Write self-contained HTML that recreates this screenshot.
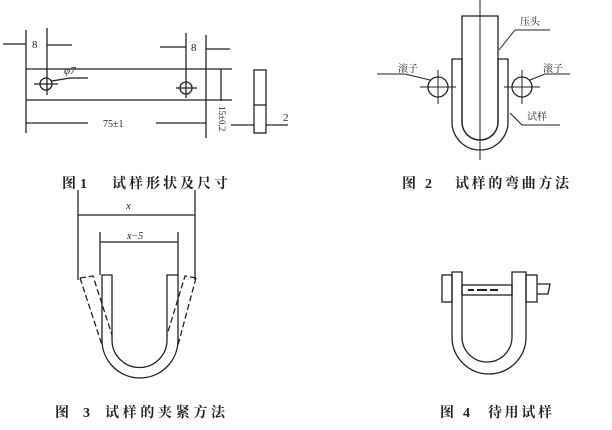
<!DOCTYPE html>
<html><head><meta charset="utf-8"><style>
html,body{margin:0;padding:0;background:#fff;}
svg{display:block;}
text{font-family:"Liberation Serif","Noto Serif CJK SC",serif;fill:#222;}
.c{font-family:"Liberation Serif","Noto Serif CJK SC",serif;font-size:14px;font-weight:bold;}
</style></head><body>
<svg width="612" height="430" viewBox="0 0 612 430" xmlns="http://www.w3.org/2000/svg">
<g stroke="#222" stroke-width="1.3" fill="none">
<!-- Fig 1 -->
<line x1="26" y1="30" x2="26" y2="133"/>
<line x1="47" y1="28" x2="47" y2="95"/>
<line x1="3" y1="44" x2="26" y2="44"/>
<line x1="47" y1="45" x2="72" y2="45"/>
<line x1="26" y1="69" x2="232" y2="69"/>
<line x1="26" y1="100" x2="232" y2="100"/>
<line x1="206" y1="35" x2="206" y2="138"/>
<line x1="186" y1="33" x2="186" y2="98"/>
<line x1="160" y1="47" x2="186" y2="47"/>
<line x1="206" y1="49" x2="230" y2="49"/>
<circle cx="46" cy="84" r="6"/>
<line x1="34" y1="84" x2="58" y2="84"/>
<circle cx="186" cy="88" r="6"/>
<line x1="176" y1="88" x2="197" y2="88"/>
<line x1="52" y1="81" x2="70" y2="78"/><line x1="70" y1="78" x2="88" y2="78"/>
<line x1="221" y1="69" x2="221" y2="101"/>
<line x1="26" y1="123" x2="88" y2="123"/>
<line x1="156" y1="123" x2="206" y2="123"/>
<rect x="254" y="70" width="12" height="63"/>
<line x1="254" y1="105" x2="266" y2="105"/>
<line x1="231" y1="125" x2="254" y2="125"/>
<line x1="266" y1="125" x2="288" y2="125"/>
<!-- Fig 2 -->
<line x1="480" y1="0" x2="480" y2="160" stroke-width="1"/>
<path d="M462 16 H498 V122 A18 18 0 0 1 462 122 Z"/>
<path d="M452 59 H462 V122 A18 18 0 0 0 498 122 V59 H508 V122 A28 28 0 0 1 452 122 Z"/>
<circle cx="438" cy="87" r="10"/>
<circle cx="522" cy="87" r="10"/>
<line x1="420" y1="87" x2="456" y2="87" stroke-width="1"/>
<line x1="438" y1="70" x2="438" y2="104" stroke-width="1"/>
<line x1="504" y1="87" x2="540" y2="87" stroke-width="1"/>
<line x1="522" y1="70" x2="522" y2="104" stroke-width="1"/>
<path d="M499 50 L515 30 H550" stroke-width="1"/>
<path d="M377 74 H405 L430 80" stroke-width="1"/>
<path d="M530 80 L545 74 H570" stroke-width="1"/>
<path d="M510 113 L522 125 H560" stroke-width="1"/>
<!-- Fig 3 -->
<line x1="78" y1="190" x2="78" y2="280"/>
<line x1="195" y1="190" x2="195" y2="280"/>
<line x1="78" y1="215" x2="195" y2="215"/>
<line x1="100" y1="232" x2="100" y2="275"/>
<line x1="178" y1="232" x2="178" y2="275"/>
<line x1="100" y1="242" x2="178" y2="242"/>
<path d="M102 275 H112 V340 A27.5 27.5 0 0 0 167 340 V275 H178 V340 A38 38 0 0 1 102 340 Z"/>
<g stroke-dasharray="6 3">
<path d="M80 278 L93 276 L112 335"/><path d="M80 278 L102 345"/>
<path d="M196 278 L185 276 L167 335"/><path d="M196 278 L178 345"/>
</g>
<!-- Fig 4 -->
<path d="M452 272 H462 V337 A25 25 0 0 0 512 337 V272 H526 V337 A37 37 0 0 1 452 337 Z"/>
<rect x="442" y="275" width="10" height="27"/>
<rect x="526" y="275" width="11" height="27"/>
<rect x="462" y="285" width="50" height="10"/>
<path d="M468 290 h6 m3 0 h10 m3 0 h8" stroke-width="2"/>
<path d="M537 284 H550 L548 294 H537"/>
</g>
<g font-size="11">
<text x="32" y="48">8</text>
<text x="191" y="51">8</text>
<text x="64" y="74" font-style="italic">φ7</text>
<text x="103" y="127" font-size="10">75±1</text>
<text x="283" y="121">2</text>
<text transform="translate(219,106) rotate(90)" font-size="9">15±0.2</text>
<text x="126" y="209" font-style="italic">x</text>
<text x="127" y="239" font-style="italic" font-size="10">x−5</text>
</g>
<g font-size="10" style="font-family:'Noto Sans CJK SC',sans-serif">
<text x="520" y="25">压头</text>
<text x="398" y="72">滚子</text>
<text x="543" y="72">滚子</text>
<text x="527" y="120">试样</text>
</g>
<text class="c" x="62" y="188">图</text><text class="c" x="80" y="188">1</text>
<text class="c" x="112" y="188" textLength="116" lengthAdjust="spacing">试样形状及尺寸</text>
<text class="c" x="402" y="188">图</text><text class="c" x="425" y="188">2</text>
<text class="c" x="455" y="188" textLength="114" lengthAdjust="spacing">试样的弯曲方法</text>
<text class="c" x="55" y="417">图</text><text class="c" x="83" y="417">3</text>
<text class="c" x="105" y="417" textLength="120" lengthAdjust="spacing">试样的夹紧方法</text>
<text class="c" x="440" y="417">图</text><text class="c" x="463" y="417">4</text>
<text class="c" x="488" y="417" textLength="64" lengthAdjust="spacing">待用试样</text>
</svg>
</body></html>
